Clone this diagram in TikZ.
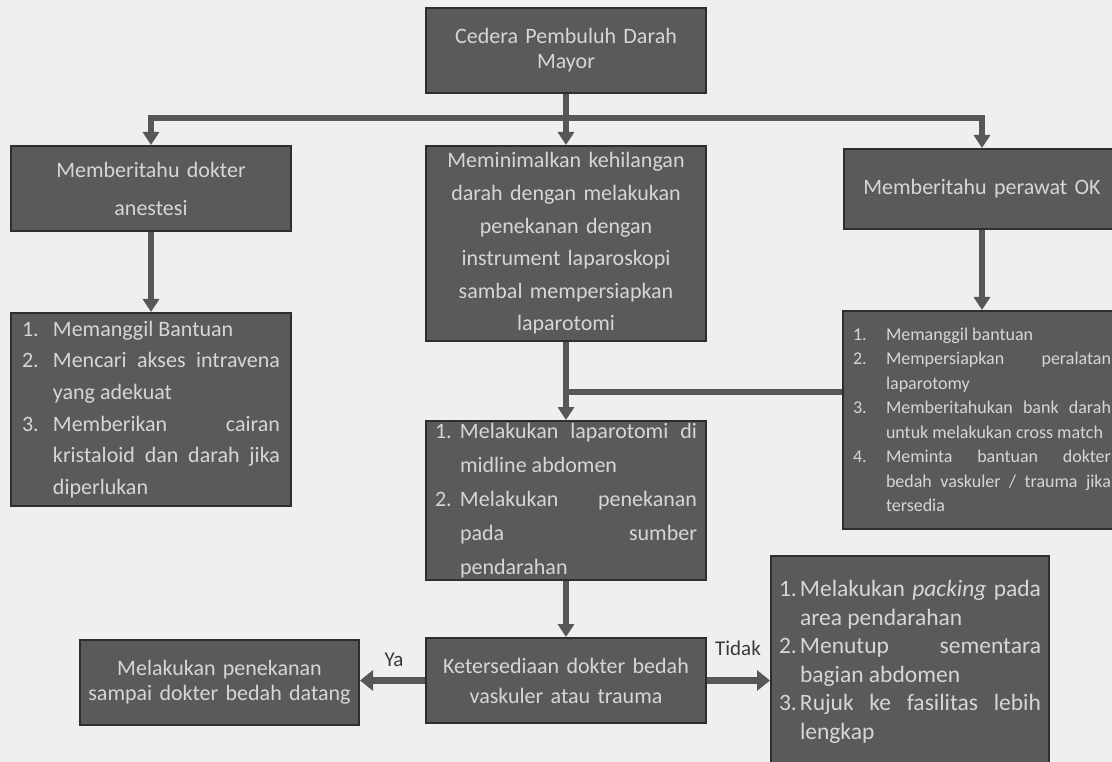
\documentclass[tikz,border=0pt]{standalone}
\usepackage{fontspec}
\setmainfont{Carlito}
\usetikzlibrary{arrows.meta}
\definecolor{bg}{HTML}{EEEFEF}
\definecolor{boxfill}{HTML}{5A5A5A}
\definecolor{boxline}{HTML}{2E2E2E}
\definecolor{boxtext}{HTML}{D6D6D6}
\definecolor{conncol}{HTML}{575757}
\definecolor{labcol}{HTML}{3A3A3A}
\newlength\indw
\newcommand\JL[2]{\hbox to \hsize{\hbox to \indw{#1\hfil}#2}}
\newcommand\LL[2]{\hbox to \hsize{\hbox to \indw{#1\hfil}#2\hfil}}
\tikzset{
  box/.style={draw=boxline, line width=2pt, fill=boxfill, text=boxtext,
    inner sep=0pt, anchor=north west},
  cbox/.style={box, align=center, text width=270pt},
  conn/.style={draw=conncol, line width=6pt, line join=miter},
  arr/.style={conn, -{Triangle[width=16pt,length=13pt]}},
  sarr/.style={draw=conncol, line width=7pt, -{Triangle[width=20pt,length=13pt]}},
  lab/.style={text=labcol, font=\fontsize{21}{25}\selectfont, inner sep=0pt}
}
\begin{document}
\begin{tikzpicture}[x=1pt,y=-1pt]
\useasboundingbox (0,0) rectangle (1112,762);
\fill[bg] (0,0) rectangle (1112,762);

% nodes
\node[cbox, minimum width=280pt, minimum height=85pt, font=\fontsize{22}{25}\selectfont]
  (top) at (425,7) {Cedera Pembuluh Darah\\Mayor};
\node[cbox, minimum width=280pt, minimum height=85pt, font=\fontsize{22}{38}\selectfont]
  (b1) at (10,145) {Memberitahu dokter\\anestesi};
\node[cbox, minimum width=280pt, minimum height=195pt, font=\fontsize{22}{32.6}\selectfont]
  (b2) at (425,145) {Meminimalkan kehilangan\\darah dengan melakukan\\penekanan dengan\\instrument laparoskopi\\sambal mempersiapkan\\laparotomi};
\node[cbox, minimum width=276pt, minimum height=80pt, font=\fontsize{22}{26}\selectfont]
  (b3) at (843,148) {Memberitahu perawat OK};

\node[box, minimum width=280pt, minimum height=193pt, font=\fontsize{22}{31.6}\selectfont]
  (l2) at (10,312) {\vbox{\hsize=258pt \setlength\indw{31pt}%
    \LL{1.}{Memanggil Bantuan}
    \JL{2.}{Mencari akses intravena}
    \LL{}{yang adekuat}
    \JL{3.}{Memberikan cairan}
    \JL{}{kristaloid dan darah jika}
    \LL{}{diperlukan}}};

\node[box, minimum width=278pt, minimum height=218pt, font=\fontsize{18}{24.5}\selectfont]
  (r2) at (842,310) {\vbox{\hsize=258pt \setlength\indw{33pt}%
    \LL{1.}{Memanggil bantuan}
    \JL{2.}{Mempersiapkan peralatan}
    \LL{}{laparotomy}
    \JL{3.}{Memberitahukan bank darah}
    \LL{}{untuk melakukan cross match}
    \JL{4.}{Meminta bantuan dokter}
    \JL{}{bedah vaskuler / trauma jika}
    \LL{}{tersedia}}};

\node[box, minimum width=280pt, minimum height=159pt, font=\fontsize{22}{34}\selectfont]
  (m2) at (425,420) {\vbox{\hsize=262pt \setlength\indw{25pt}%
    \JL{1.}{Melakukan laparotomi di}
    \LL{}{midline abdomen}
    \JL{2.}{Melakukan penekanan}
    \JL{}{pada sumber}
    \LL{}{pendarahan}}};

\node[cbox, minimum width=280pt, minimum height=85pt, font=\fontsize{22}{30}\selectfont]
  (dec) at (425,637) {Ketersediaan dokter bedah\\vaskuler atau trauma};
\node[cbox, minimum width=279pt, minimum height=85pt, font=\fontsize{22}{25}\selectfont]
  (l3) at (79,639) {Melakukan penekanan\\sampai dokter bedah datang};

\node[box, minimum width=278pt, minimum height=212pt, font=\fontsize{23.5}{28.5}\selectfont]
  (r3) at (770,555) {\vbox{\hsize=262pt \setlength\indw{21pt}%
    \JL{1.}{Melakukan \textit{packing} pada}
    \LL{}{area pendarahan}
    \JL{2.}{Menutup sementara}
    \LL{}{bagian abdomen}
    \JL{3.}{Rujuk ke fasilitas lebih}
    \LL{}{lengkap}}};

% connectors
\coordinate (bar) at (0,118);
\coordinate (y392) at (0,392);
\draw[conn] (top.south) -- (top.south |- bar);
\draw[conn, {Triangle[width=16pt,length=13pt]}-{Triangle[width=16pt,length=13pt]}]
  (b1.north) -- (b1.north |- bar) -- (b3.north |- bar) -- (b3.north);
\draw[arr] (top.south) -- (b2.north);
\draw[arr] (b1.south) -- (l2.north);
\draw[arr] (b3.south) -- (b3.south |- r2.north);
\draw[conn] (r2.west |- y392) -- (b2.south |- y392);
\draw[arr] (b2.south) -- (m2.north);
\draw[arr] (m2.south) -- (dec.north);
\draw[sarr] (dec.west) -- (dec.west -| l3.east);
\draw[sarr] (dec.east) -- (dec.east -| r3.west);

\node[lab] (ya) at (394,660) {Ya};
\node[lab] (tidak) at (738,648) {Tidak};
\end{tikzpicture}
\end{document}
